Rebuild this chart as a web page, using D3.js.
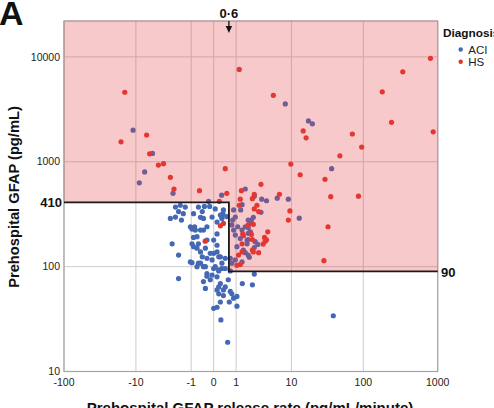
<!DOCTYPE html>
<html>
<head>
<meta charset="utf-8">
<script src="https://cdn.jsdelivr.net/npm/d3@7"></script>
<style>
  body { margin: 0; background: #fff; }
  svg { font-family: "Liberation Sans", Arial, Helvetica, sans-serif; }
  .tick-label { font-size: 10.5px; fill: #222; }
  .axis-title { font-size: 15px; font-weight: bold; fill: #111; }
  .cut-label { font-size: 13px; font-weight: bold; fill: #111; }
</style>
</head>
<body>
<svg width="494" height="408"></svg>
<script>
// [release rate (pg/mL/minute), prehospital GFAP (pg/mL)]
var hsPoints = [
  [-14.5, 4600], [-6.9, 1800], [1.2, 7600], [-16.4, 1550], [-6.2, 1190], [-4.5, 930], [-3.7, 960],
  [-2.8, 710], [0.43, 860], [-2.4, 550], [-0.55, 530], [0.5, 500], [1.35, 530], [0.19, 420],
  [5.3, 4300], [14.8, 1970], [16.3, 1690], [71, 1840], [800, 9700], [340, 7200], [180, 4650],
  [240, 2380], [870, 1930], [95, 1380], [48, 1140], [9.8, 950], [13.4, 750], [30, 680], [3.3, 610],
  [36, 465], [86, 470], [6.6, 490], [9.5, 340], [9, 278], [33, 240], [29, 114], [4.3, 215],
  [3.8, 190], [4.1, 180], [2.3, 445], [2.5, 355], [2.8, 385], [3, 335], [2.4, 253], [2.2, 203],
  [1.5, 197], [2.3, 144], [3, 136], [1.4, 138], [1.27, 105], [2.5, 490], [1.27, 440], [1.2, 385],
  [1.9, 250], [1.45, 205], [2.3, 181], [3.9, 175], [3.6, 164], [0.35, 258], [0.23, 245],
  [-0.3, 175], [1.15, 129], [1.05, 103], [2.4, 138], [1.4, 165]
];

var aciPoints = [
  [-11, 2000], [-5.6, 1200], [-7.4, 800], [-8.9, 630], [-2.5, 500], [0.28, 480], [-0.17, 420],
  [8.1, 3560], [17.6, 2450], [20, 2300], [37, 860], [6.1, 450], [9, 440], [3.4, 440], [4.1, 425],
  [13, 290], [2.5, 85], [2.5, 470], [1.65, 550], [3.3, 330], [2.4, 295], [2.2, 278], [1.9, 235],
  [1.9, 208], [1.9, 181], [2.9, 163], [2.5, 152], [1.65, 136], [1.9, 129], [2, 123],
  [1.4, 390], [1.3, 347], [2.2, 258], [1.9, 278], [1.65, 240], [2.1, 215], [1.27, 185], [1.8, 165],
  [2.6, 173], [0.95, 200], [0.85, 223], [0.75, 250], [0.8, 278], [0.5, 300], [0.35, 347], [0.29, 297],
  [-2.25, 370], [-1.8, 385], [-1.4, 370], [-1.95, 335], [-1.55, 320], [-2.8, 288], [-2.25, 297],
  [-1.7, 278], [-0.6, 370], [-0.33, 375], [-0.13, 375], [0.05, 355], [0.33, 320], [0.29, 288],
  [-0.86, 320], [-0.42, 335], [-0.37, 288], [-0.05, 297], [0.11, 266], [-1.05, 240], [-0.95, 228],
  [-0.76, 223], [-0.5, 223], [-0.23, 240], [-2.6, 165], [-0.67, 193], [-0.6, 165], [-0.86, 155],
  [-0.29, 150], [-0.11, 134], [-0.5, 138], [0.11, 138], [0.23, 124], [-0.05, 116], [0.05, 100],
  [0.29, 96], [0.43, 96], [0.17, 93], [-1.95, 129], [-1.05, 111], [-0.67, 100], [-0.37, 100],
  [-0.23, 86], [-0.05, 83], [0.11, 80], [-1.95, 77], [-0.37, 72], [-0.11, 75], [0.23, 69],
  [-0.29, 62], [0.11, 60], [0.43, 64], [0.57, 75], [0.35, 53], [0.75, 55], [1.05, 52],
  [0.75, 108], [0.67, 120], [0.95, 116], [1.4, 111], [-0.6, 108], [-0.67, 150], [-0.29, 100],
  [0, 96], [0.17, 91], [0.17, 55], [0.23, 46], [0.11, 41], [0, 40], [0, 134], [0.62, 46],
  [1.05, 42], [0.25, 31], [0.54, 19], [-0.23, 81], [0.17, 64], [0.35, 60], [0.67, 58], [0.85, 50],
  [1.42, 69], [2.3, 67], [39, 34], [0.67, 91], [-0.5, 295], [0.23, 310], [-0.8, 240], [-0.37, 223],
  [-0.86, 190], [-0.23, 179], [0.11, 205], [0, 179], [0.11, 160], [-0.42, 124], [-0.23, 120],
  [-0.95, 109], [-0.5, 108], [0.29, 108], [0.17, 124], [0.43, 120], [-0.95, 165],
  [0.85, 347], [0.95, 297], [1.1, 240], [1.4, 223], [1.8, 179], [1.05, 155], [1.5, 144]
];

var xTicks = [-100, -10, -1, 0, 1, 10, 100, 1000];
var yTicks = [10, 100, 1000, 10000];
var groups = ["ACI", "HS"];
var groupColors = ["#4468b4", "#e5352a"];

// cut-offs
var rateCut = 0.6, highCut = 410, lowCut = 90;

var svg = d3.select("svg"),
    plotLeft = 64, plotRight = 437.7, plotTop = 21, plotBottom = 371.5;

var x = d3.scaleSymlog().constant(1)
    .domain([-100, 1000])
    .range([plotLeft, plotRight]);

var y = d3.scaleLog()
    .domain([10, 22000])
    .range([plotBottom, plotTop]);

var line = d3.line()
    .x(function (d) { return x(d[0]); })
    .y(function (d) { return y(d[1]); });

// grid
var grid = svg.append("g").attr("stroke", "#cdcdcd").attr("stroke-width", 1);
grid.selectAll(".vx").data(xTicks).enter().append("line")
    .attr("x1", function (d) { return x(d); }).attr("x2", function (d) { return x(d); })
    .attr("y1", plotTop).attr("y2", plotBottom);
grid.selectAll(".hy").data(yTicks).enter().append("line")
    .attr("y1", function (d) { return y(d); }).attr("y2", function (d) { return y(d); })
    .attr("x1", plotLeft).attr("x2", plotRight);

// points
var dots = svg.append("g");
dots.selectAll(".aci").data(aciPoints).enter().append("circle")
    .attr("cx", function (d) { return x(d[0]); })
    .attr("cy", function (d) { return y(d[1]); })
    .attr("r", 2.6)
    .attr("fill", groupColors[0]);
dots.selectAll(".hs").data(hsPoints).enter().append("circle")
    .attr("cx", function (d) { return x(d[0]); })
    .attr("cy", function (d) { return y(d[1]); })
    .attr("r", 2.6)
    .attr("fill", groupColors[1]);

// pink "positive" region laid over the points
var zone = [
  [-100, 22000], [1000, 22000], [1000, lowCut], [rateCut, lowCut], [rateCut, highCut], [-100, highCut]
];
svg.append("path")
    .attr("d", line(zone) + "Z")
    .attr("fill", "rgb(230,60,70)")
    .attr("fill-opacity", 0.28)
    .attr("stroke", "rgba(215,70,75,0.5)");

// frame
svg.append("rect")
    .attr("x", plotLeft).attr("y", plotTop)
    .attr("width", plotRight - plotLeft).attr("height", plotBottom - plotTop)
    .attr("fill", "none").attr("stroke", "#a5a5a5").attr("stroke-width", 1.2);

// threshold line
svg.append("path")
    .attr("d", line([[-100, highCut], [rateCut, highCut], [rateCut, lowCut], [1000, lowCut]]))
    .attr("fill", "none").attr("stroke", "#1a1a1a").attr("stroke-width", 1.8);

// tick labels
svg.selectAll(".xl").data(xTicks).enter().append("text")
    .attr("class", "tick-label")
    .attr("x", function (d) { return x(d); })
    .attr("y", 386)
    .attr("text-anchor", "middle")
    .text(function (d) { return d; });
svg.selectAll(".yl").data(yTicks).enter().append("text")
    .attr("class", "tick-label")
    .attr("x", 60)
    .attr("y", function (d) { return y(d); })
    .attr("dy", "0.35em")
    .attr("text-anchor", "end")
    .text(function (d) { return d; });

// cut-off labels
svg.append("text").attr("class", "cut-label")
    .attr("x", 62).attr("y", y(highCut)).attr("dy", "0.36em")
    .attr("text-anchor", "end").text(highCut);
svg.append("text").attr("class", "cut-label")
    .attr("x", 441).attr("y", y(lowCut)).attr("dy", "0.4em")
    .text(lowCut);
svg.append("text").attr("class", "cut-label")
    .attr("x", x(rateCut)).attr("y", 18.3)
    .attr("text-anchor", "middle").text("0·6");

// arrow under 0·6
var ax = x(rateCut);
svg.append("line").attr("x1", ax).attr("x2", ax).attr("y1", plotTop).attr("y2", 27)
    .attr("stroke", "#111").attr("stroke-width", 1.3);
svg.append("path")
    .attr("d", "M" + (ax - 3.2) + ",26L" + (ax + 3.2) + ",26L" + ax + ",33Z")
    .attr("fill", "#111");

// axis titles
svg.append("text").attr("class", "axis-title")
    .attr("text-anchor", "middle")
    .attr("transform", "translate(19,197) rotate(-90)")
    .style("font-size", "14.7px")
    .text("Prehospital GFAP (pg/mL)");
svg.append("text").attr("class", "axis-title")
    .attr("x", 250).attr("y", 412.5)
    .attr("text-anchor", "middle")
    .text("Prehospital GFAP release rate (pg/mL/minute)");

// panel letter
svg.append("text")
    .attr("x", -1).attr("y", 25)
    .style("font-size", "34px").style("font-weight", "bold").attr("fill", "#111")
    .text("A");

// legend
var legend = svg.append("g").attr("transform", "translate(443,0)");
legend.append("text")
    .attr("y", 36.7)
    .style("font-size", "11.8px").style("font-weight", "bold").attr("fill", "#111")
    .text("Diagnosis");
var item = legend.selectAll(".item").data(groups).enter().append("g")
    .attr("transform", function (d, i) { return "translate(0," + (49.5 + i * 12.3) + ")"; });
item.append("circle").attr("cx", 17.7).attr("r", 2.2)
    .attr("fill", function (d, i) { return groupColors[i]; });
item.append("text").attr("x", 25.3).attr("dy", "0.36em")
    .style("font-size", "11.5px").attr("fill", "#222")
    .text(function (d) { return d; });
</script>
</body>
</html>
